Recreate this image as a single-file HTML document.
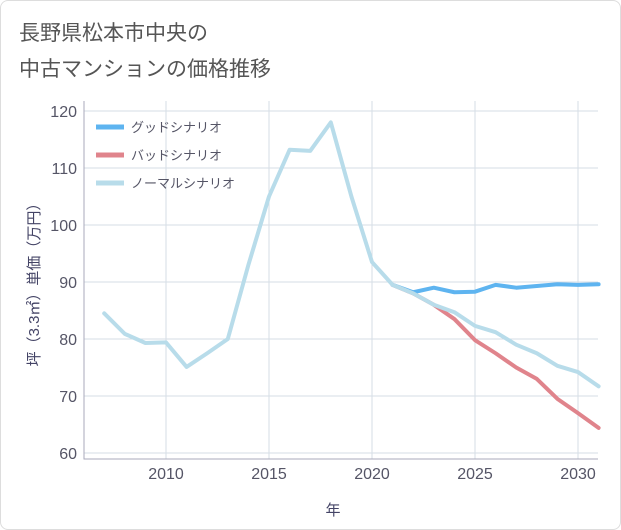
<!DOCTYPE html>
<html><head><meta charset="utf-8">
<style>
body{margin:0;background:#fff;}
#wrap{position:relative;width:619px;height:528px;border:1px solid #ddd;border-radius:8px;background:#fff;overflow:hidden;}
svg text{font-family:"Liberation Sans","Noto Sans CJK JP",sans-serif;}
</style></head><body>
<div id="wrap">
<svg id="c" width="621" height="530">
<text x="18" y="39" font-size="21" fill="#555">長野県松本市中央の</text>
<text x="18" y="75" font-size="21" fill="#555">中古マンションの価格推移</text>
<g id="grid"></g><g id="series"></g>
<text x="332" y="514" font-size="15" fill="#446" text-anchor="middle">年</text>
<text transform="translate(38,280) rotate(-90)" font-size="15" fill="#446" text-anchor="middle">坪（3.3㎡）単価（万円）</text>
<g id="legend"></g>
</svg></div>
<script>
const years=[2007,2008,2009,2010,2011,2012,2013,2014,2015,2016,2017,2018,2019,2020,2021,2022,2023,2024,2025,2026,2027,2028,2029,2030,2031];
const normal=[84.5,80.9,79.3,79.4,75.1,77.5,80,93,105,113.2,113,118,105,93.5,89.5,88,86,84.7,82.3,81.2,79,77.5,75.3,74.2,71.7];
const goodYears=[2021,2022,2023,2024,2025,2026,2027,2028,2029,2030,2031];
const good=[89.5,88.2,89,88.2,88.3,89.5,89,89.3,89.6,89.5,89.6];
const bad=[89.5,88,86,83.5,79.8,77.5,75,73,69.5,67,64.4];
const yTicks=[60,70,80,90,100,110,120];
const xTicks=[2010,2015,2020,2025,2030];
const NS="http://www.w3.org/2000/svg";
const X0=83,X1=597,Y0=100,Y1=458;
const xs=y=>165+(y-2010)*20.6;
const ys=v=>452-(v-60)*5.7;
function mk(t,a,p){const e=document.createElementNS(NS,t);for(const k in a)e.setAttribute(k,a[k]);p.appendChild(e);return e;}
const g=document.getElementById('grid');
yTicks.forEach(v=>{
 const l=mk('line',{x1:X0,x2:X1,y1:ys(v),y2:ys(v),stroke:'#d5dde5','stroke-width':1},g);
 
 
 const t=mk('text',{x:76,y:ys(v)+6,'font-size':16,fill:'#556','text-anchor':'end'},g);t.textContent=v;
 
 
});
xTicks.forEach(v=>{
 const l=mk('line',{x1:xs(v),x2:xs(v),y1:Y0,y2:Y1,stroke:'#d5dde5','stroke-width':1},g);
 
 
 const t=mk('text',{x:xs(v),y:478,'font-size':16,fill:'#556','text-anchor':'middle'},g);t.textContent=v;
 
 
});
const ax=mk('path',{d:`M${X0} ${Y0}V${Y1}H${X1}`,stroke:'#aab',fill:'none'},g);


const s=document.getElementById('series');
function line(xv,yv,col,name){
 const p=mk('polyline',{points:xv.map((x,i)=>xs(x)+','+ys(yv[i])).join(' '),fill:'none',stroke:col,'stroke-width':4,'stroke-linejoin':'round','stroke-linecap':'round'},s);
 
 
}
line(goodYears,bad,'#e0848c','bad-scenario-line');
line(goodYears,good,'#5eb4f0','good-scenario-line');
line(years,normal,'#b8dcea','normal-scenario-line');
const lg=document.getElementById('legend');
[['グッドシナリオ','#5eb4f0'],['バッドシナリオ','#e0848c'],['ノーマルシナリオ','#b8dcea']].forEach((d,i)=>{
 const y=126+i*28;
 const r=mk('line',{x1:95,x2:123,y1:y,y2:y,stroke:d[1],'stroke-width':5},lg);
 
 
 const t=mk('text',{x:130,y:y+5,'font-size':13,fill:'#556'},lg);t.textContent=d[0];
 
 
});
</script>
</body></html>
